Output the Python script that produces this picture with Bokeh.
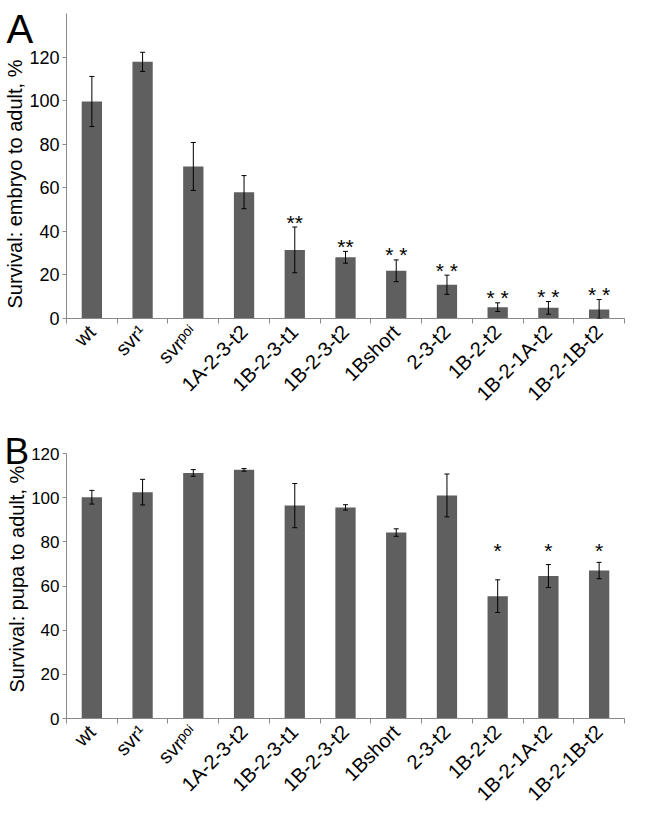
from math import pi
from bokeh.plotting import figure
from bokeh.models import ColumnDataSource, Range1d, FixedTicker, Whisker, TeeHead, Title
from bokeh.layouts import column
from bokeh.embed import file_html
from bokeh.resources import INLINE
from bokeh.core.properties import value

# ---------------- data ----------------
genotypes = ["wt", "svr\u00b9", "svr\u1d56\u1d52\u2071", "1A-2-3-t2", "1B-2-3-t1", "1B-2-3-t2",
             "1Bshort", "2-3-t2", "1B-2-t2", "1B-2-1A-t2", "1B-2-1B-t2"]

embryo_mean = [99.6, 117.8, 69.8, 58.0, 31.5, 28.1, 21.9, 15.5, 5.2, 4.9, 4.1]
embryo_err = [11.5, 4.4, 11.0, 7.6, 10.5, 2.7, 5.0, 4.4, 2.0, 2.9, 4.6]
embryo_sig = ["", "", "", "", "**", "**", "* *", "* *", "* *", "* *", "* *"]

pupa_mean = [100.2, 102.5, 111.2, 112.6, 96.4, 95.6, 84.2, 101.0, 55.4, 64.5, 67.0]
pupa_err = [3.1, 5.8, 1.5, 0.6, 10.0, 1.2, 1.7, 9.7, 7.4, 5.2, 3.7]
pupa_sig = ["", "", "", "", "", "", "", "", "*", "*", "*"]
pupa_sig_level = 77.5

y_ticks = [0, 20, 40, 60, 80, 100, 120]

FONT = "Liberation Sans"
BAR = "#5f5f5f"
AXIS = "#8a8a8a"


def make_panel(means, errs, sigs, ylabel, letter, ymax, width, height, borders,
               tick_font, letter_size, letter_offset, letter_standoff, ylabel_offset,
               sig_fixed=None):
    n = len(means)
    xs = list(range(1, n + 1))
    src = ColumnDataSource(dict(
        x=xs, top=means,
        upper=[m + e for m, e in zip(means, errs)],
        lower=[max(m - e, 0) for m, e in zip(means, errs)],
    ))
    left, right, top, bottom = borders
    p = figure(width=width, height=height, x_range=Range1d(0.5, n + 0.5),
               y_range=Range1d(0, ymax), output_backend="svg", toolbar_location=None,
               min_border_left=left, min_border_right=right,
               min_border_top=top, min_border_bottom=bottom)
    p.xgrid.visible = False
    p.ygrid.visible = False
    p.outline_line_color = None
    p.background_fill_color = "white"
    p.border_fill_color = "white"

    # panel letter as the figure title
    p.title.text = letter
    p.title.align = "left"
    p.title.vertical_align = "bottom"
    p.title.offset = letter_offset
    p.title.standoff = letter_standoff
    p.title.text_font = FONT
    p.title.text_font_size = letter_size
    p.title.text_font_style = "normal"
    p.title.text_color = "black"

    p.vbar(x="x", top="top", width=0.4, source=src, fill_color=BAR, line_color=None)

    w = Whisker(source=src, base="x", upper="upper", lower="lower",
                line_color="black", line_width=1,
                upper_head=TeeHead(size=5, line_color="black", line_width=1),
                lower_head=TeeHead(size=5, line_color="black", line_width=1))
    w.level = "overlay"
    p.add_layout(w)

    # significance marks
    sx, sy, st = [], [], []
    for i, s in enumerate(sigs):
        if s:
            sx.append(xs[i])
            sy.append(sig_fixed if sig_fixed is not None else means[i] + errs[i])
            st.append(s)
    ssrc = ColumnDataSource(dict(x=sx, y=sy, t=st))
    p.text(x="x", y="y", text="t", source=ssrc, text_align="center",
           text_baseline="alphabetic", text_font=value(FONT),
           text_font_size="21px", text_color="black",
           y_offset=(3 if sig_fixed is not None else -5))

    # x axis
    xa = p.xaxis[0]
    xa.ticker = FixedTicker(ticks=xs, minor_ticks=[i + 0.5 for i in range(0, n + 1)])
    xa.major_label_overrides = {x: g for x, g in zip(xs, genotypes)}
    xa.major_label_orientation = pi / 4
    xa.major_tick_line_color = None
    xa.minor_tick_out = 5
    xa.minor_tick_in = 0
    xa.minor_tick_line_color = AXIS
    xa.axis_line_color = AXIS
    xa.major_label_text_font = FONT
    xa.major_label_text_font_size = "20px"
    xa.major_label_text_color = "black"
    xa.major_label_standoff = 4

    # y axis
    ya = p.yaxis[0]
    ya.ticker = FixedTicker(ticks=y_ticks)
    ya.minor_tick_line_color = None
    ya.major_tick_out = 4
    ya.major_tick_in = 0
    ya.major_tick_line_color = AXIS
    ya.axis_line_color = AXIS
    ya.major_label_text_font = FONT
    ya.major_label_text_font_size = tick_font
    ya.major_label_text_color = "black"
    ya.major_label_standoff = 3

    # y axis title (placed in the left panel, outside the tick labels)
    yt = Title(text=ylabel, align="left", vertical_align="bottom", offset=ylabel_offset,
               standoff=2, text_font=FONT, text_font_size="20px",
               text_font_style="normal", text_color="black")
    p.add_layout(yt, "left")
    return p


pA = make_panel(embryo_mean, embryo_err, embryo_sig, "Survival: embryo to adult, %", "A",
                140, 633, 432, (62, 2, 13, 114), "18px", "40px", -60, -74, 10)
pB = make_panel(pupa_mean, pupa_err, pupa_sig, "Survival: pupa to adult, %", "B",
                120, 633, 383, (59, 9, 21, 93), "17px", "37px", -62, -36, 26,
                sig_fixed=pupa_sig_level)

layout = column(pA, pB)
open("out.html", "w").write(file_html(layout, INLINE))
